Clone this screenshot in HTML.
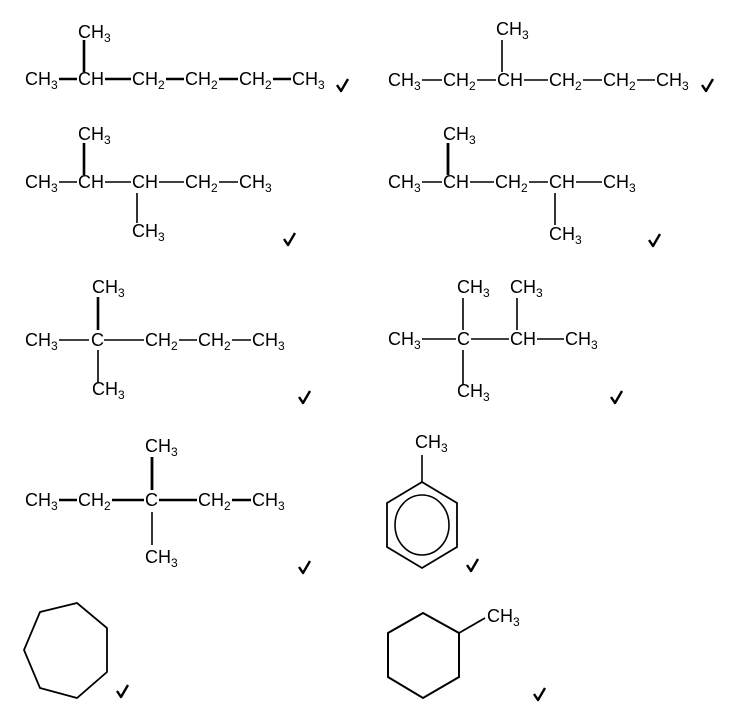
<!DOCTYPE html>
<html><head><meta charset="utf-8"><style>
html,body{margin:0;padding:0;background:#fff;}
svg{display:block}
text{font-family:"Liberation Sans",sans-serif;font-size:18px;fill:#000}
tspan.s{font-size:12px}
</style></head><body>
<svg width="737" height="716" viewBox="0 0 737 716" xmlns="http://www.w3.org/2000/svg">
<defs>
<path id="ck" d="M-6,-3 L-2,3 L5,-9" fill="none" stroke="#000" stroke-width="2.4" stroke-linejoin="round"/>
</defs>
<g stroke="#000" stroke-width="1.6" fill="none">
<!-- row1 left -->
<g stroke-width="2.6">
<line x1="59" y1="79" x2="77" y2="79"/><line x1="105" y1="79" x2="131" y2="79"/><line x1="166" y1="79" x2="184" y2="79"/><line x1="219" y1="79" x2="238" y2="79"/><line x1="273" y1="79" x2="291" y2="79"/>
<line x1="84" y1="40" x2="84" y2="72"/>
</g>
<!-- row2 left -->
<line x1="59" y1="182" x2="77" y2="182"/><line x1="105" y1="182" x2="131" y2="182"/><line x1="159" y1="182" x2="184" y2="182"/><line x1="219" y1="182" x2="238" y2="182"/>
<line x1="84" y1="143" x2="84" y2="175" stroke-width="2.6"/><line x1="137" y1="193" x2="137" y2="223"/>
<!-- row1 right -->
<line x1="422" y1="80" x2="442" y2="80"/><line x1="477" y1="80" x2="496" y2="80"/><line x1="524" y1="80" x2="548" y2="80"/><line x1="583" y1="80" x2="602" y2="80"/><line x1="637" y1="80" x2="655" y2="80"/>
<line x1="502" y1="40" x2="502" y2="72"/>
<!-- row2 right -->
<line x1="422" y1="182" x2="442" y2="182"/><line x1="470" y1="182" x2="494" y2="182"/><line x1="529" y1="182" x2="548" y2="182"/><line x1="576" y1="182" x2="602" y2="182"/>
<line x1="448" y1="143" x2="448" y2="175" stroke-width="2.8"/><line x1="555" y1="193" x2="555" y2="225"/>
<!-- row3 left -->
<line x1="59" y1="340" x2="89" y2="340"/><line x1="104" y1="340" x2="144" y2="340"/><line x1="179" y1="340" x2="197" y2="340"/><line x1="232" y1="340" x2="251" y2="340"/>
<line x1="98" y1="297" x2="98" y2="330" stroke-width="2.6"/><line x1="98" y1="350" x2="98" y2="383"/>
<!-- row3 right -->
<line x1="422" y1="339" x2="456" y2="339"/><line x1="471" y1="339" x2="509" y2="339"/><line x1="537" y1="339" x2="564" y2="339"/>
<line x1="463" y1="298" x2="463" y2="330"/><line x1="517" y1="298" x2="517" y2="330"/><line x1="463" y1="350" x2="463" y2="385"/>
<!-- row4 left -->
<line x1="59" y1="500" x2="77" y2="500" stroke-width="2.4"/><line x1="112" y1="500" x2="144" y2="500" stroke-width="2.4"/><line x1="159" y1="500" x2="197" y2="500" stroke-width="2.4"/><line x1="232" y1="500" x2="251" y2="500" stroke-width="2.4"/>
<line x1="152" y1="457" x2="152" y2="490" stroke-width="2.8"/><line x1="152" y1="512" x2="152" y2="545"/>
<!-- rings -->
<polygon points="40,612 77,603 107,628 107,672 77,698 40,688 24,650" stroke-width="1.8"/>
<polygon points="422,482 457,503 457,547 422,568 387,547 387,503" stroke-width="1.8"/>
<ellipse cx="422" cy="525" rx="27" ry="30" stroke-width="1.6"/>
<line x1="422" y1="455" x2="422" y2="482"/>
<polygon points="423,613 459,633 459,677 423,698 388,677 388,633" stroke-width="2"/>
<line x1="459" y1="633" x2="485" y2="618" stroke-width="1.8"/>
</g>
<!-- checks -->
<use href="#ck" x="343" y="88"/><use href="#ck" x="708" y="88"/>
<use href="#ck" x="290" y="242"/><use href="#ck" x="655" y="243"/>
<use href="#ck" x="305" y="400"/><use href="#ck" x="617" y="400"/>
<use href="#ck" x="305" y="570"/><use href="#ck" x="473" y="568"/>
<use href="#ck" x="123" y="694"/><use href="#ck" x="540" y="697"/>
<g>
<!-- row1 left -->
<text x="78" y="38">CH<tspan class="s" dy="4">3</tspan></text>
<text x="25" y="85">CH<tspan class="s" dy="4">3</tspan></text>
<text x="78" y="85">CH</text>
<text x="132" y="85">CH<tspan class="s" dy="4">2</tspan></text>
<text x="185" y="85">CH<tspan class="s" dy="4">2</tspan></text>
<text x="239" y="85">CH<tspan class="s" dy="4">2</tspan></text>
<text x="292" y="85">CH<tspan class="s" dy="4">3</tspan></text>
<!-- row2 left -->
<text x="78" y="140">CH<tspan class="s" dy="4">3</tspan></text>
<text x="25" y="188">CH<tspan class="s" dy="4">3</tspan></text>
<text x="78" y="188">CH</text>
<text x="132" y="188">CH</text>
<text x="185" y="188">CH<tspan class="s" dy="4">2</tspan></text>
<text x="239" y="188">CH<tspan class="s" dy="4">3</tspan></text>
<text x="132" y="237">CH<tspan class="s" dy="4">3</tspan></text>
<!-- row1 right -->
<text x="496" y="35">CH<tspan class="s" dy="4">3</tspan></text>
<text x="388" y="86">CH<tspan class="s" dy="4">3</tspan></text>
<text x="443" y="86">CH<tspan class="s" dy="4">2</tspan></text>
<text x="497" y="86">CH</text>
<text x="549" y="86">CH<tspan class="s" dy="4">2</tspan></text>
<text x="603" y="86">CH<tspan class="s" dy="4">2</tspan></text>
<text x="656" y="86">CH<tspan class="s" dy="4">3</tspan></text>
<!-- row2 right -->
<text x="443" y="140">CH<tspan class="s" dy="4">3</tspan></text>
<text x="388" y="188">CH<tspan class="s" dy="4">3</tspan></text>
<text x="443" y="188">CH</text>
<text x="495" y="188">CH<tspan class="s" dy="4">2</tspan></text>
<text x="549" y="188">CH</text>
<text x="603" y="188">CH<tspan class="s" dy="4">3</tspan></text>
<text x="549" y="240">CH<tspan class="s" dy="4">3</tspan></text>
<!-- row3 left -->
<text x="92" y="293">CH<tspan class="s" dy="4">3</tspan></text>
<text x="25" y="346">CH<tspan class="s" dy="4">3</tspan></text>
<text x="91" y="346">C</text>
<text x="145" y="346">CH<tspan class="s" dy="4">2</tspan></text>
<text x="198" y="346">CH<tspan class="s" dy="4">2</tspan></text>
<text x="252" y="346">CH<tspan class="s" dy="4">3</tspan></text>
<text x="92" y="395">CH<tspan class="s" dy="4">3</tspan></text>
<!-- row3 right -->
<text x="457" y="293">CH<tspan class="s" dy="4">3</tspan></text>
<text x="510" y="293">CH<tspan class="s" dy="4">3</tspan></text>
<text x="388" y="345">CH<tspan class="s" dy="4">3</tspan></text>
<text x="457" y="345">C</text>
<text x="510" y="345">CH</text>
<text x="565" y="345">CH<tspan class="s" dy="4">3</tspan></text>
<text x="457" y="397">CH<tspan class="s" dy="4">3</tspan></text>
<!-- row4 left -->
<text x="145" y="452">CH<tspan class="s" dy="4">3</tspan></text>
<text x="25" y="506">CH<tspan class="s" dy="4">3</tspan></text>
<text x="78" y="506">CH<tspan class="s" dy="4">2</tspan></text>
<text x="145" y="506">C</text>
<text x="198" y="506">CH<tspan class="s" dy="4">2</tspan></text>
<text x="252" y="506">CH<tspan class="s" dy="4">3</tspan></text>
<text x="145" y="563">CH<tspan class="s" dy="4">3</tspan></text>
<!-- rings -->
<text x="415" y="448">CH<tspan class="s" dy="4">3</tspan></text>
<text x="487" y="622">CH<tspan class="s" dy="4">3</tspan></text>
</g>
</svg>
</body></html>
